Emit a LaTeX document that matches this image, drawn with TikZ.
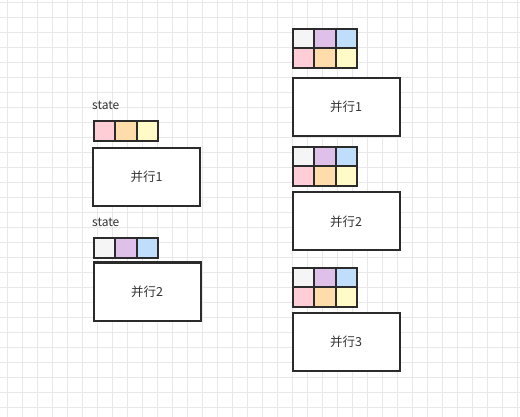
\documentclass[tikz,border=0pt]{standalone}
\usepackage{fontspec}
\setmainfont{Noto Sans CJK SC}
\usetikzlibrary{positioning}

\definecolor{gridline}{HTML}{E8E8E8}
\definecolor{cGray}{HTML}{F5F5F5}
\definecolor{cPurple}{HTML}{DFC0E8}
\definecolor{cBlue}{HTML}{BFDEFB}
\definecolor{cPink}{HTML}{FFCDD6}
\definecolor{cPeach}{HTML}{FFDDAB}
\definecolor{cYellow}{HTML}{FFFAC6}
\definecolor{edge}{HTML}{2B2B2B}
\definecolor{ink}{HTML}{333333}

\tikzset{
    cell/.style = {draw = edge, line width = 2pt, inner sep = 0pt, outer sep = 0pt,
                   minimum width = 21.3pt, minimum height = 19.5pt},
    taskbox/.style = {draw = edge, line width = 2pt, fill = white, inner sep = 0pt,
                   minimum width = 107pt, minimum height = 58pt, text = ink,
                   font = \fontsize{12.5}{14}\selectfont},
    tag/.style = {anchor = west, inner sep = 0pt, text = ink,
                  font = \fontsize{12}{14}\selectfont}
}

\begin{document}
\begin{tikzpicture}[x = 1pt, y = -1pt]
    \useasboundingbox (0, 0) rectangle (520, 417);
    \fill [white] (0, 0) rectangle (520, 417);
    % background grid
    \foreach \x in {7, 22, ..., 517}
        \draw [gridline, line width = 0.8pt] (\x, 0) -- (\x, 417);
    \foreach \y in {2, 17, ..., 407}
        \draw [gridline, line width = 0.8pt] (0, \y) -- (520, \y);

    % left column
    \node [tag] (stateA) at (92, 105) {state};
    \node [cell, fill = cPink] (la1) at (104.7, 131) {};
    \node [cell, fill = cPeach, right = 0pt of la1] (la2) {};
    \node [cell, fill = cYellow, right = 0pt of la2] (la3) {};
    \node [taskbox] (left1) at (146.5, 177) {并行1};

    \node [tag] (stateB) at (92, 222) {state};
    \node [cell, fill = cGray] (lb1) at (104.7, 248) {};
    \node [cell, fill = cPurple, right = 0pt of lb1] (lb2) {};
    \node [cell, fill = cBlue, right = 0pt of lb2] (lb3) {};
    \node [taskbox] (left2) at (147, 291.5) {并行2};

    % right column
    \foreach \n/\top/\mid in {1/38.75/107, 2/156.75/221.5, 3/277.25/342} {
        \node [cell, fill = cGray] (r\n a) at (303.7, \top) {};
        \node [cell, fill = cPurple, right = 0pt of r\n a] (r\n b) {};
        \node [cell, fill = cBlue, right = 0pt of r\n b] (r\n c) {};
        \node [cell, fill = cPink, below = 0pt of r\n a] (r\n d) {};
        \node [cell, fill = cPeach, right = 0pt of r\n d] (r\n e) {};
        \node [cell, fill = cYellow, right = 0pt of r\n e] (r\n f) {};
        \node [taskbox] (right\n) at (346, \mid) {并行\n};
    }
\end{tikzpicture}
\end{document}
